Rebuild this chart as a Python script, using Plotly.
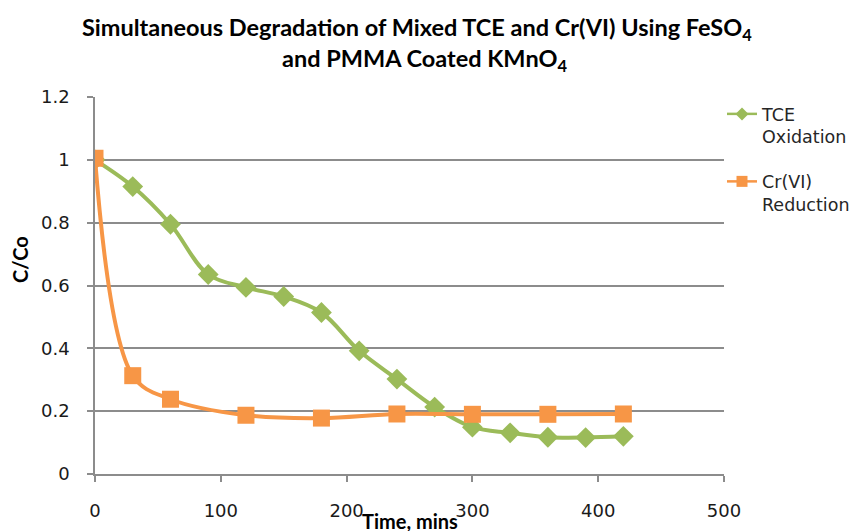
import plotly.graph_objects as go

tce_time = [0, 30, 60, 90, 120, 150, 180, 210, 240, 270, 300, 330, 360, 390, 420]
tce_ratio = [1.0, 0.915, 0.795, 0.635, 0.594, 0.565, 0.514, 0.392, 0.302, 0.213, 0.149, 0.131, 0.117, 0.116, 0.12]

cr_time = [0, 30, 60, 120, 180, 240, 300, 360, 420]
cr_ratio = [1.005, 0.313, 0.238, 0.187, 0.178, 0.191, 0.19, 0.19, 0.191]

x_ticks = [0, 100, 200, 300, 400, 500]
y_ticks = [0, 0.2, 0.4, 0.6, 0.8, 1.0, 1.2]

TITLE_FONT = "Lato, 'Open Sans', sans-serif"
TICK_FONT = "'DejaVu Sans', sans-serif"
GREEN = "#9BBB59"
ORANGE = "#F79646"
GRID = "#8C8C8C"

L, R, T, B = 95, 134, 97, 57
W, H = 858, 531
PW, PH = W - L - R, H - T - B


def px(xp):
    return (xp - L) / PW


def py(yp):
    return (H - B - yp) / PH


fig = go.Figure()
fig.add_trace(go.Scatter(
    x=tce_time, y=tce_ratio, mode="lines+markers", showlegend=False,
    line=dict(color=GREEN, width=4, shape="spline", smoothing=1.0),
    marker=dict(symbol="diamond", size=16, color=GREEN),
))
fig.add_trace(go.Scatter(
    x=cr_time, y=cr_ratio, mode="lines+markers", showlegend=False,
    line=dict(color=ORANGE, width=4, shape="spline", smoothing=1.0),
    marker=dict(symbol="square", size=17, color=ORANGE),
))
# legend entries (smaller symbols, like the original)
fig.add_trace(go.Scatter(
    x=[None], y=[None], mode="lines+markers", name="TCE<br>Oxidation",
    line=dict(color=GREEN, width=2.5), marker=dict(symbol="diamond", size=10, color=GREEN),
    legendgroup="a",
))
fig.add_trace(go.Scatter(
    x=[None], y=[None], mode="lines+markers", name="Cr(VI)<br>Reduction",
    line=dict(color=ORANGE, width=2.5), marker=dict(symbol="square", size=11, color=ORANGE),
    legendgroup="b",
))

fig.update_layout(
    width=W, height=H,
    margin=dict(l=L, r=R, t=T, b=B, autoexpand=False),
    paper_bgcolor="white", plot_bgcolor="white",
    font=dict(family=TICK_FONT, size=17, color="#262626"),
    legend=dict(
        xref="container", yref="container",
        x=722 / W, xanchor="left", y=1 - 96 / H, yanchor="top",
        font=dict(family=TICK_FONT, size=17.5, color="#262626"),
        valign="top", tracegroupgap=19, bgcolor="rgba(0,0,0,0)",
        itemwidth=30,
    ),
    showlegend=True,
)

fig.update_xaxes(
    range=[0, 500], tickvals=x_ticks, showgrid=False, automargin=False,
    showline=True, linecolor=GRID, linewidth=1.5,
    ticks="outside", ticklen=6, tickcolor=GRID, tickwidth=1.5,
    ticklabelstandoff=14, zeroline=False,
    tickfont=dict(family=TICK_FONT, size=18, color="#1a1a1a"),
)
fig.update_yaxes(
    range=[0, 1.2], tickvals=y_ticks, showgrid=True, gridcolor=GRID, gridwidth=1.5,
    automargin=False,
    showline=True, linecolor=GRID, linewidth=1.5,
    ticks="outside", ticklen=6, tickcolor=GRID, tickwidth=1.5,
    ticklabelstandoff=14, zeroline=False,
    tickfont=dict(family=TICK_FONT, size=18, color="#1a1a1a"),
)

# chart title (two lines)
fig.add_annotation(
    text="<b>Simultaneous Degradation of Mixed TCE and Cr(VI) Using FeSO<sub>4</sub></b>",
    xref="paper", yref="paper", x=px(417), y=py(29),
    xanchor="center", yanchor="middle", showarrow=False,
    font=dict(family=TITLE_FONT, size=23.5, color="#000000"),
)
fig.add_annotation(
    text="<b>and PMMA Coated KMnO<sub>4</sub></b>",
    xref="paper", yref="paper", x=px(424), y=py(60),
    xanchor="center", yanchor="middle", showarrow=False,
    font=dict(family=TITLE_FONT, size=23.5, color="#000000"),
)
# axis titles
fig.add_annotation(
    text="<b>Time, mins</b>", xref="paper", yref="paper",
    x=px(410), y=py(521), xanchor="center", yanchor="middle", showarrow=False,
    font=dict(family=TITLE_FONT, size=20, color="#000000"),
)
fig.add_annotation(
    text="<b>C/Co</b>", xref="paper", yref="paper",
    x=px(20), y=py(260), xanchor="center", yanchor="middle", showarrow=False,
    textangle=-90,
    font=dict(family=TITLE_FONT, size=20, color="#000000"),
)

fig.write_html("out.html")
